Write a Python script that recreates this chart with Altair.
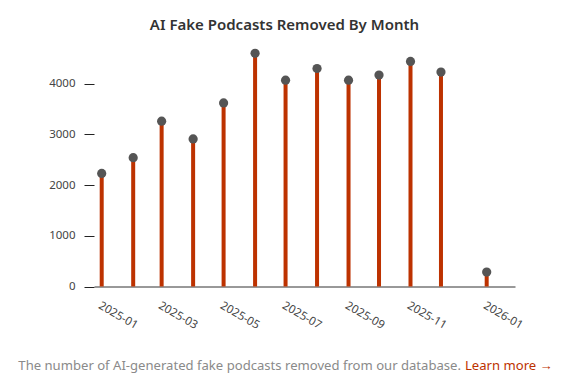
import altair as alt
import pandas as pd

# Data
dates = [
    "2025-01-01", "2025-02-01", "2025-03-01", "2025-04-01", "2025-05-01",
    "2025-06-01", "2025-07-01", "2025-08-01", "2025-09-01", "2025-10-01",
    "2025-11-01", "2025-12-01", "2026-01-15",
]
removed = [2230, 2540, 3260, 2910, 3620, 4600, 4070, 4300, 4070, 4170, 4440, 4230, 285]
y_ticks = [0, 1000, 2000, 3000, 4000]

title_text = "AI Fake Podcasts Removed By Month"
footer_text = "The number of AI-generated fake podcasts removed from our database."
link_text = "Learn more \u2192"

FONT = "Noto Sans"
RED = "#bd3200"

df = pd.DataFrame({"date": dates, "removed": removed})

x_tick_values = [
    alt.DateTime(year=2025, month=1, date=1, utc=True),
    alt.DateTime(year=2025, month=3, date=1, utc=True),
    alt.DateTime(year=2025, month=5, date=1, utc=True),
    alt.DateTime(year=2025, month=7, date=1, utc=True),
    alt.DateTime(year=2025, month=9, date=1, utc=True),
    alt.DateTime(year=2025, month=11, date=1, utc=True),
    alt.DateTime(year=2026, month=1, date=15, utc=True),
]

x_scale = alt.Scale(
    type="utc",
    domain=[
        alt.DateTime(year=2024, month=12, date=24, hours=10, utc=True),
        alt.DateTime(year=2026, month=2, date=11, hours=21, utc=True),
    ],
)
y_scale = alt.Scale(domain=[0, 5000], nice=False)

x_axis = alt.Axis(
    values=x_tick_values,
    labelExpr="utcFormat(datum.value, '%Y-%m')",
    labelAngle=30,
    labelAlign="left",
    labelBaseline="top",
    ticks=False,
    labelPadding=13,
    domainColor="#333333",
    grid=False,
    title=None,
    labelFont=FONT,
    labelFontSize=11.5,
    labelColor="#444444",
    labelOverlap=False,
)
y_axis = alt.Axis(
    values=y_ticks,
    format="d",
    domain=False,
    grid=False,
    tickSize=10,
    tickColor="#222222",
    labelPadding=9,
    title=None,
    labelFont=FONT,
    labelFontSize=11.5,
    labelColor="#444444",
)

base = alt.Chart(df)
rules = base.mark_rule(color=RED, strokeWidth=4).encode(
    x=alt.X("date:T", scale=x_scale, axis=x_axis),
    y=alt.Y("removed:Q", scale=y_scale, axis=y_axis),
    y2=alt.datum(0),
)
points = base.mark_circle(size=85, color="#555555", opacity=1).encode(
    x="date:T",
    y="removed:Q",
)

footer = alt.Chart(pd.DataFrame({"t": [footer_text]})).mark_text(
    align="right", baseline="alphabetic", font=FONT, fontSize=13.1, color="#8a8a8a"
).encode(x=alt.value(367), y=alt.value(336.5), text="t:N")
link = alt.Chart(pd.DataFrame({"t": [link_text]})).mark_text(
    align="left", baseline="alphabetic", font=FONT, fontSize=13.1, color=RED
).encode(x=alt.value(371), y=alt.value(336.5), text="t:N")

chart = (
    alt.layer(rules, points, footer, link)
    .properties(
        width=421,
        height=253.5,
        autosize=alt.AutoSizeParams(type="none"),
        padding={"left": 86, "top": 25, "right": 63, "bottom": 88},
        title=alt.TitleParams(
            title_text,
            anchor="middle",
            frame="group",
            dx=-20,
            dy=16,
            fontSize=15,
            fontWeight=600,
            color="#333333",
            font=FONT,
            baseline="alphabetic",
            offset=4,
        ),
    )
    .configure_view(stroke=None)
)

chart.save("out.html", embed_options={"renderer": "svg", "actions": False})
